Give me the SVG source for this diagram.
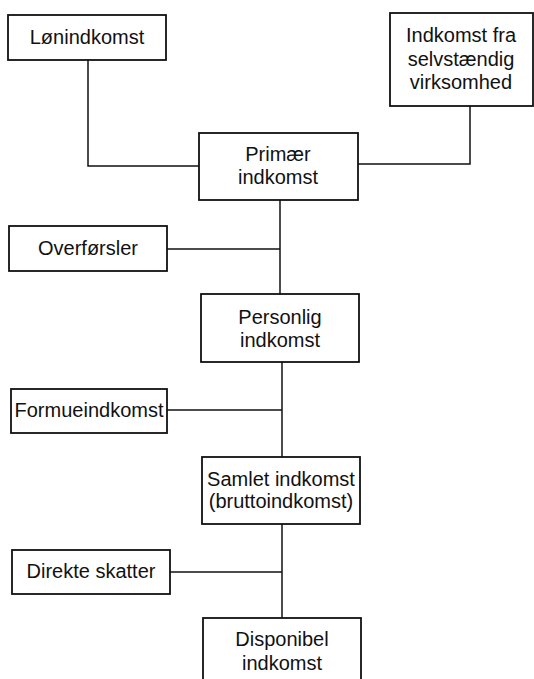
<svg xmlns="http://www.w3.org/2000/svg" width="534" height="679" viewBox="0 0 534 679">
<style>
.box{fill:#fff;stroke:#111;stroke-width:1.8}
.ln{fill:none;stroke:#111;stroke-width:1.5}
text{font-family:"Liberation Sans",Arial,sans-serif;font-size:20px;fill:#111;text-anchor:middle}
</style>
<rect width="534" height="679" fill="#fff"/>
<g id="connectors">
<polyline class="ln" points="88,60 88,166 199,166"/>
<polyline class="ln" points="470,106 470,164 358,164"/>
<line class="ln" x1="280" y1="200" x2="280" y2="294"/>
<line class="ln" x1="167" y1="249" x2="280" y2="249"/>
<line class="ln" x1="282" y1="362" x2="282" y2="457"/>
<line class="ln" x1="167" y1="410" x2="282" y2="410"/>
<line class="ln" x1="282" y1="524" x2="282" y2="618"/>
<line class="ln" x1="170" y1="572" x2="282" y2="572"/>
</g>
<g id="loenindkomst"><rect class="box" x="8" y="15" width="158" height="45"/><text x="87" y="44">Lønindkomst</text></g>
<g id="selvstaendig"><rect class="box" x="390" y="13" width="143" height="93"/><text x="461" y="42">Indkomst fra</text><text x="461" y="66">selvstændig</text><text x="461" y="89">virksomhed</text></g>
<g id="primaer"><rect class="box" x="199" y="133" width="159" height="67"/><text x="278" y="161">Primær</text><text x="278" y="184">indkomst</text></g>
<g id="overfoersler"><rect class="box" x="9" y="226" width="158" height="45"/><text x="88" y="255">Overførsler</text></g>
<g id="personlig"><rect class="box" x="201" y="294" width="158" height="68"/><text x="280" y="324">Personlig</text><text x="280" y="347">indkomst</text></g>
<g id="formue"><rect class="box" x="11" y="389" width="156" height="44"/><text x="89" y="417">Formueindkomst</text></g>
<g id="samlet"><rect class="box" x="202" y="457" width="158" height="67"/><text x="281" y="486">Samlet indkomst</text><text x="281" y="508">(bruttoindkomst)</text></g>
<g id="skatter"><rect class="box" x="12" y="550" width="158" height="44"/><text x="91" y="578">Direkte skatter</text></g>
<g id="disponibel"><rect class="box" x="203" y="618" width="158" height="70"/><text x="282" y="646">Disponibel</text><text x="282" y="670">indkomst</text></g>
</svg>
